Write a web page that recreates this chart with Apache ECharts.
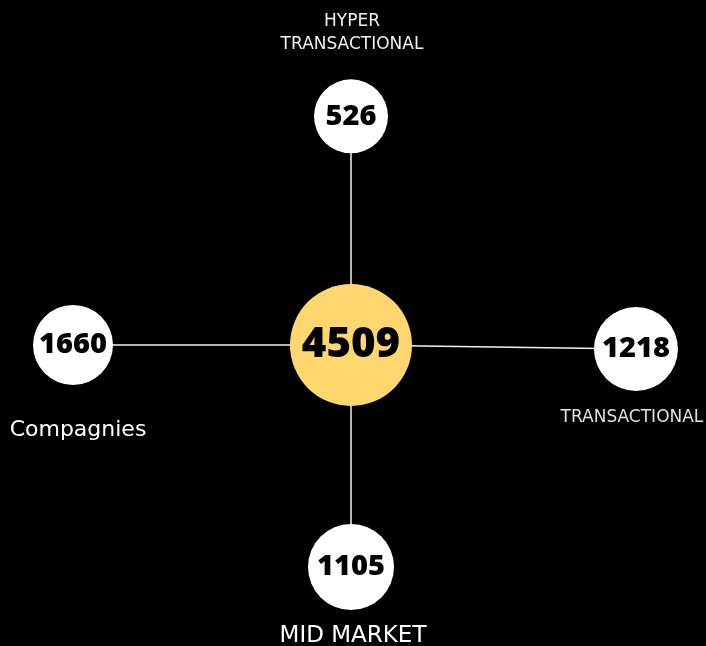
<!DOCTYPE html>
<html>
<head>
<meta charset="utf-8">
<script src="https://cdn.jsdelivr.net/npm/echarts@6/dist/echarts.min.js"></script>
<style>
  html, body { margin: 0; padding: 0; background: #000; }
  #chart { width: 706px; height: 646px; }
</style>
</head>
<body>
<div id="chart"></div>
<script>
// node data
const nodeNames = ["Total", "HYPER\nTRANSACTIONAL", "Compagnies", "TRANSACTIONAL", "MID MARKET"];
const nodeCounts = [4509, 526, 1660, 1218, 1105];
const nodeX = [0, 0, -1, 1.025, 0];
const nodeY = [0, 1.03, 0, -0.018, -1];

// styling per node (center first)
const nodeSizes = [122, 74, 80, 84, 86];
const numberSizes = [42, 29, 29, 29, 29];
const nameStyles = [
  null,
  { position: "top", distance: 23, fontSize: 17, color: "#f0f0f0", lineHeight: 23, offset: [1, 0] },
  { position: "bottom", distance: 32, fontSize: 22, color: "#ffffff", offset: [5, 0] },
  { position: "bottom", distance: 16, fontSize: 17, color: "#e0e0e0", offset: [-4, 0] },
  { position: "bottom", distance: 13, fontSize: 23, color: "#ffffff", offset: [2, 0] },
];

const chart = echarts.init(document.getElementById("chart"));

const graphNodes = nodeNames.map((name, i) => ({
  name: name,
  value: [nodeX[i], nodeY[i]],
  symbolSize: nodeSizes[i],
  itemStyle: { color: i === 0 ? "#ffd76e" : "#ffffff" },
  label: { fontSize: numberSizes[i] },
}));

const graphLinks = nodeNames.slice(1).map((name) => ({
  source: nodeNames[0],
  target: name,
}));

const nameLabels = nodeNames.map((name, i) => {
  if (!nameStyles[i]) return { value: [nodeX[i], nodeY[i]], name: "", label: { show: false } };
  const s = nameStyles[i];
  return {
    value: [nodeX[i], nodeY[i]],
    name: name,
    symbolSize: nodeSizes[i],
    label: {
      show: true,
      position: s.position,
      distance: s.distance,
      offset: s.offset,
      fontSize: s.fontSize,
      color: s.color,
      lineHeight: s.lineHeight || s.fontSize + 4,
    },
  };
});

chart.setOption({
  backgroundColor: "#000000",
  animation: false,
  grid: { left: 45.2, right: 49.2, top: 100.8, bottom: 56.8 },
  xAxis: { type: "value", min: -1.1, max: 1.1, show: false },
  yAxis: { type: "value", min: -1.1, max: 1.1, show: false },
  series: [
    {
      type: "graph",
      coordinateSystem: "cartesian2d",
      symbol: "circle",
      data: graphNodes,
      links: graphLinks,
      lineStyle: { color: "#f2f2f2", width: 1.5, opacity: 1 },
      label: {
        show: true,
        position: "inside",
        color: "#000",
        fontFamily: "Open Sans",
        fontWeight: 800,
        formatter: (p) => String(nodeCounts[p.dataIndex]),
      },
      emphasis: { disabled: true },
      z: 2,
    },
    {
      type: "scatter",
      data: nameLabels,
      clip: false,
      itemStyle: { color: "#000000", opacity: 1 },
      label: {
        fontFamily: "DejaVu Sans",
        fontWeight: 400,
        align: "center",
        opacity: 1,
        formatter: (p) => p.name,
      },
      emphasis: { disabled: true },
      silent: true,
      z: 1,
    },
  ],
});

window.addEventListener("resize", () => {
  chart.resize();
});
</script>
</body>
</html>
